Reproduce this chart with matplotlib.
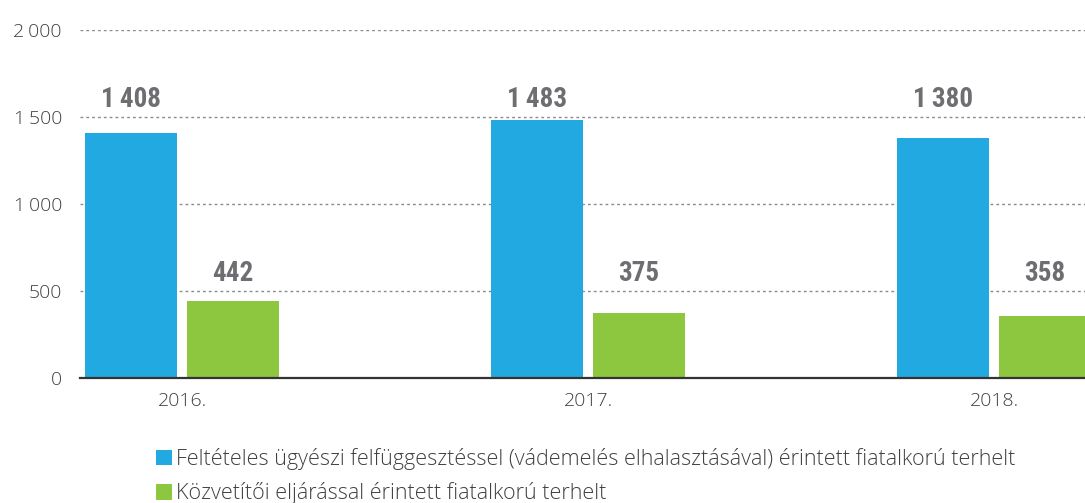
import matplotlib
matplotlib.use("Agg")
import matplotlib.pyplot as plt
from matplotlib.patches import Patch
import numpy as np

years = ["2016.", "2017.", "2018."]
felteteles = [1408, 1483, 1380]
kozvetitoi = [442, 375, 358]
series_labels = [
    "Feltételes ügyészi felfüggesztéssel (vádemelés elhalasztásával) érintett fiatalkorú terhelt",
    "Közvetítői eljárással érintett fiatalkorú terhelt",
]
yticks = [0, 500, 1000, 1500, 2000]
ytick_labels = ["0", "500", "1\u2009000", "1\u2009500", "2\u2009000"]

blue = "#23A9E1"
green = "#8DC63F"
label_grey = "#6D6E71"
text_grey = "#404040"

def fmt(v):
    return f"{v:,}".replace(",", "\u2009")

W, H = 1085, 503
fig = plt.figure(figsize=(W / 100, H / 100), dpi=100)
ax = fig.add_axes([80 / W, 1 - 378 / H, 1 - 80 / W, (378 - 30) / H])

x = np.arange(len(years))
bw = 92 / 406
gap = 10 / 406
off = (bw + gap) / 2
ax.bar(x - off, felteteles, width=bw, color=blue, zorder=3)
ax.bar(x + off, kozvetitoi, width=bw, color=green, zorder=3)

vfont = dict(family=["Roboto Condensed", "Liberation Sans Narrow", "Roboto", "DejaVu Sans"],
             fontweight="bold", fontsize=19.5, color=label_grey, ha="center", va="center")
for xi, v in zip(x, felteteles):
    ax.text(xi - off, 1600, fmt(v), **vfont)
for xi, v in zip(x, kozvetitoi):
    ax.text(xi + off, 600, fmt(v), **vfont)

ax.set_xlim(-102 / 406, (1085 - 182) / 406)
ax.set_ylim(0, 2000)
ax.set_yticks(yticks)
ax.set_yticklabels(ytick_labels)
ax.set_xticks(x)
ax.set_xticklabels(years)
tfont = ["Open Sans", "DejaVu Sans"]
for lab in ax.get_yticklabels() + ax.get_xticklabels():
    lab.set_family(tfont)
    lab.set_fontweight("light")
    lab.set_fontsize(14)
    lab.set_color(text_grey)
ax.tick_params(axis="y", length=0, pad=13)
ax.tick_params(axis="x", length=0, pad=10)

for yv in yticks[1:]:
    ax.axhline(yv, color="#8A8A8A", linestyle=(0, (2, 2.2)), linewidth=1, zorder=1)

for s in ["top", "right", "left"]:
    ax.spines[s].set_visible(False)
ax.spines["bottom"].set_color("#333333")
ax.spines["bottom"].set_linewidth(1.6)
ax.spines["bottom"].set_zorder(4)

handles = [Patch(facecolor=blue), Patch(facecolor=green)]
leg = fig.legend(handles, series_labels, loc="upper left",
                 bbox_to_anchor=(156 / W, 1 - 448 / H), frameon=False,
                 borderpad=0, borderaxespad=0, handlelength=0.72, handleheight=0.72,
                 handletextpad=0.2, labelspacing=0.58,
                 prop={"family": tfont, "weight": "light", "size": 15.5})
for t in leg.get_texts():
    t.set_color(text_grey)

fig.savefig("out.png", dpi=100)
